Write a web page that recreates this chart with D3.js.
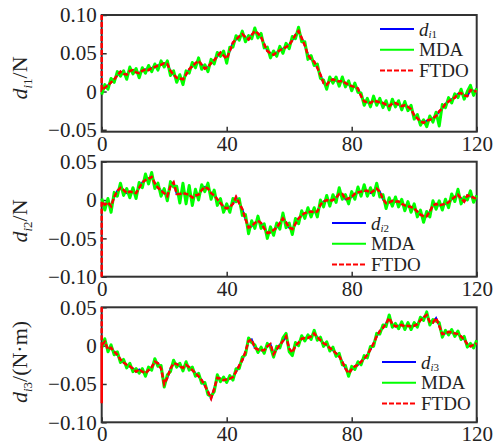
<!DOCTYPE html>
<html><head><meta charset="utf-8">
<script src="https://cdn.jsdelivr.net/npm/d3@7"></script>
<style>
html,body{margin:0;padding:0;background:#fff;}
svg{display:block;}
</style></head>
<body>
<svg id="chart" width="495" height="446"></svg>
<script>
// ---------- data ----------
const xTicks = [0, 40, 80, 120];
const yTicks1 = [-0.05, 0, 0.05, 0.10];
const yTicks2 = [-0.10, -0.05, 0, 0.05];
const yTicks3 = [-0.10, -0.05, 0, 0.05];
const seriesNames = ["MDA", "FTDO"];

// disturbance d_i1 (t = 0..120, step 1)
const d1 = [0.002,0.005,0.008,0.012,0.016,0.021,0.026,0.023,0.022,0.027,0.028,0.025,0.024,0.027,0.029,0.028,0.031,0.032,0.034,0.035,
0.037,0.036,0.027,0.022,0.018,0.017,0.016,0.022,0.029,0.033,0.037,0.040,0.035,0.030,0.032,0.037,0.041,0.046,0.051,0.047,
0.043,0.053,0.064,0.068,0.072,0.075,0.071,0.068,0.074,0.079,0.076,0.071,0.062,0.053,0.050,0.048,0.051,0.054,0.056,0.058,
0.061,0.067,0.074,0.079,0.070,0.060,0.048,0.042,0.039,0.031,0.022,0.011,0.009,0.014,0.016,0.014,0.013,0.014,0.011,0.009,
0.007,0.006,0.004,-0.006,-0.013,-0.014,-0.015,-0.012,-0.013,-0.014,-0.015,-0.017,-0.019,-0.016,-0.015,-0.017,-0.019,-0.018,-0.020,-0.023,
-0.031,-0.035,-0.039,-0.041,-0.038,-0.037,-0.035,-0.032,-0.026,-0.022,-0.016,-0.013,-0.010,-0.008,-0.003,-0.002,-0.005,-0.006,0.002,0.001,0.000];
const mda1 = [-0.004,0.009,0.003,0.017,0.012,0.026,0.020,0.027,0.016,0.032,0.023,0.030,0.018,0.031,0.024,0.034,0.026,0.036,0.028,0.040,
0.032,0.040,0.021,0.027,0.012,0.022,0.009,0.027,0.024,0.038,0.031,0.044,0.029,0.035,0.026,0.042,0.036,0.051,0.046,0.053,
0.037,0.058,0.058,0.073,0.067,0.079,0.065,0.073,0.069,0.083,0.070,0.076,0.057,0.058,0.044,0.053,0.046,0.059,0.050,0.063,
0.056,0.072,0.069,0.084,0.065,0.065,0.042,0.047,0.034,0.036,0.017,0.015,0.003,0.019,0.011,0.019,0.007,0.019,0.006,0.014,
0.001,0.011,-0.001,-0.002,-0.018,-0.009,-0.020,-0.006,-0.018,-0.009,-0.021,-0.012,-0.024,-0.010,-0.020,-0.012,-0.024,-0.013,-0.025,-0.018,
-0.036,-0.030,-0.044,-0.037,-0.046,-0.032,-0.040,-0.027,-0.045,-0.017,-0.021,-0.008,-0.015,-0.003,-0.008,0.003,-0.010,0.000,0.008,-0.005,0.004];
const ftdoInit1 = [0.10];

// disturbance d_i2
const d2 = [-0.002,-0.006,-0.003,-0.008,0.004,0.012,0.016,0.013,0.009,0.011,0.010,0.009,0.016,0.023,0.026,0.028,0.030,0.022,0.016,0.012,
0.009,0.005,0.018,0.023,0.008,0.008,0.009,0.008,0.007,0.003,0.006,0.007,0.013,0.017,0.015,0.009,0.006,0.001,-0.004,-0.009,
-0.011,-0.009,-0.005,0.004,-0.004,-0.012,-0.025,-0.036,-0.034,-0.030,-0.027,-0.030,-0.037,-0.043,-0.042,-0.039,-0.036,-0.030,-0.024,-0.029,
-0.036,-0.038,-0.031,-0.024,-0.020,-0.017,-0.016,-0.015,-0.016,-0.015,-0.006,-0.002,0.000,-0.001,0.000,0.003,0.008,0.008,0.001,0.002,
0.004,0.008,0.010,0.011,0.012,0.012,0.009,0.012,0.015,0.011,0.001,-0.004,-0.003,-0.001,-0.002,-0.002,-0.005,-0.007,-0.008,-0.009,
-0.011,-0.015,-0.019,-0.021,-0.021,-0.015,-0.007,-0.005,-0.007,-0.006,-0.005,-0.003,0.001,0.004,0.007,0.002,-0.002,0.006,0.005,0.003,0.002];
const mda2 = [0.002,-0.013,0.002,-0.016,0.010,0.005,0.022,0.006,0.015,0.003,0.016,0.002,0.023,0.016,0.034,0.021,0.036,0.015,0.022,0.005,
0.015,-0.001,0.024,0.017,0.018,-0.004,0.022,-0.005,0.019,-0.007,0.014,0.000,0.020,0.011,0.022,0.001,0.013,-0.007,0.002,-0.016,
-0.005,-0.016,0.002,-0.002,0.002,-0.020,-0.019,-0.044,-0.027,-0.037,-0.021,-0.037,-0.031,-0.050,-0.035,-0.046,-0.030,-0.038,-0.017,-0.036,
-0.030,-0.045,-0.024,-0.031,-0.014,-0.024,-0.010,-0.022,-0.010,-0.022,0.000,-0.009,0.006,-0.008,0.007,-0.003,0.016,0.001,0.007,-0.005,
0.011,0.001,0.017,0.005,0.020,0.005,0.016,0.006,0.022,0.004,0.007,-0.011,0.003,-0.008,0.004,-0.009,0.001,-0.014,-0.002,-0.016,
-0.005,-0.022,-0.013,-0.029,-0.015,-0.022,-0.001,-0.012,-0.001,-0.013,0.001,-0.010,0.008,-0.002,0.014,-0.005,0.004,0.000,0.012,-0.003,0.006];
const ftdoInit2 = [-0.10];

// disturbance d_i3
const d3v = [0.001,0.005,-0.005,-0.003,-0.008,-0.012,-0.018,-0.022,-0.025,-0.027,-0.030,-0.034,-0.031,-0.034,-0.036,-0.032,-0.028,-0.021,-0.023,-0.030,
-0.050,-0.042,-0.030,-0.023,-0.024,-0.027,-0.029,-0.025,-0.028,-0.032,-0.036,-0.040,-0.045,-0.052,-0.060,-0.069,-0.056,-0.042,-0.043,-0.045,
-0.044,-0.043,-0.041,-0.034,-0.026,-0.019,-0.008,0.006,0.008,-0.003,-0.005,-0.006,-0.006,-0.001,0.002,-0.011,-0.005,0.001,0.006,0.012,
-0.004,-0.009,0.000,0.004,0.009,0.010,0.010,0.012,0.016,0.011,0.007,0.003,0.001,-0.003,-0.006,-0.010,-0.014,-0.021,-0.030,-0.036,
-0.031,-0.027,-0.025,-0.021,-0.017,-0.012,-0.005,0.003,0.012,0.019,0.023,0.029,0.036,0.028,0.025,0.026,0.027,0.025,0.026,0.025,
0.026,0.028,0.033,0.037,0.040,0.031,0.030,0.036,0.026,0.015,0.016,0.018,0.017,0.016,0.015,0.012,0.008,0.002,-0.001,0.001,0.003];
const mda3 = [-0.003,0.009,-0.008,0.001,-0.012,-0.008,-0.022,-0.018,-0.029,-0.023,-0.034,-0.030,-0.036,-0.030,-0.040,-0.028,-0.032,-0.017,-0.027,-0.026,
-0.054,-0.038,-0.034,-0.019,-0.028,-0.023,-0.033,-0.021,-0.032,-0.028,-0.040,-0.036,-0.049,-0.048,-0.064,-0.066,-0.060,-0.038,-0.047,-0.041,
-0.048,-0.039,-0.045,-0.030,-0.030,-0.015,-0.012,0.010,0.004,0.001,-0.009,-0.002,-0.010,0.003,-0.002,-0.015,-0.001,-0.003,0.010,0.016,
-0.008,-0.013,0.004,0.000,0.013,0.006,0.014,0.008,0.020,0.007,0.011,-0.001,0.005,-0.007,-0.002,-0.014,-0.010,-0.025,-0.026,-0.040,
-0.027,-0.031,-0.021,-0.025,-0.013,-0.016,-0.001,-0.001,0.016,0.015,0.027,0.025,0.040,0.024,0.029,0.022,0.031,0.021,0.030,0.021,
0.030,0.024,0.037,0.033,0.044,0.027,0.034,0.032,0.030,0.011,0.020,0.014,0.021,0.012,0.019,0.008,0.012,-0.002,0.003,-0.003,0.007];
const ftdoInit3 = [0.05, -0.075];

// ---------- layout ----------
const svg = d3.select("#chart");
const SERIF = '"Liberation Serif","Times New Roman",serif';
const x = d3.scaleLinear().domain([0, 120]).range([101.7, 476.7]);

const panels = [
  { top: 15, bottom: 131.7, domain: [-0.0525, 0.10], ticks: yTicks1, d: d1, mda: mda1, init: ftdoInit1,
    sub: "i1", unit: "/N", labelY: 78, leg: { x: 380, y: 29 } },
  { top: 161.7, bottom: 276.7, domain: [-0.10, 0.05], ticks: yTicks2, d: d2, mda: mda2, init: ftdoInit2,
    sub: "i2", unit: "/N", labelY: 221, leg: { x: 332, y: 223 } },
  { top: 307.3, bottom: 422.3, domain: [-0.10, 0.05], ticks: yTicks3, d: d3v, mda: mda3, init: ftdoInit3,
    sub: "i3", unit: "/(N\u00B7m)", labelY: 362, leg: { x: 382, y: 362 } }
];

const fmt = v => v === 0 ? "0" : d3.format(".2f")(v);

panels.forEach(p => {
  const y = d3.scaleLinear().domain(p.domain).range([p.bottom, p.top]);
  const g = svg.append("g");

  // frame
  g.append("rect").attr("x", x(0)).attr("y", p.top)
    .attr("width", x(120) - x(0)).attr("height", p.bottom - p.top)
    .attr("fill", "none").attr("stroke", "#333").attr("stroke-width", 2);

  // x axis
  const xa = g.append("g").attr("transform", `translate(0,${p.bottom})`)
    .call(d3.axisBottom(x).tickValues(xTicks).tickSizeInner(-5).tickSizeOuter(0).tickPadding(4).tickFormat(d3.format("d")));
  xa.select(".domain").remove();
  xa.selectAll("line").attr("stroke", "#333").attr("stroke-width", 1.5);
  xa.selectAll("text").style("font-family", SERIF).style("font-size", "21px").attr("fill", "#222");

  // y axis
  const ya = g.append("g").attr("transform", `translate(${x(0)},0)`)
    .call(d3.axisLeft(y).tickValues(p.ticks).tickSizeInner(-5).tickSizeOuter(0).tickPadding(5).tickFormat(fmt));
  ya.select(".domain").remove();
  ya.selectAll("line").attr("stroke", "#333").attr("stroke-width", 1.5);
  ya.selectAll("text").style("font-family", SERIF).style("font-size", "21px").attr("fill", "#222");

  // lines
  const line = d3.line().x(d => x(d[0])).y(d => y(d[1]));
  const dPts = p.d.map((v, i) => [i, v]);
  const mPts = p.mda.map((v, i) => [i, v]);
  const fPts = p.init.map(v => [0, v]).concat(dPts);

  g.append("path").datum(dPts).attr("d", line).attr("fill", "none")
    .attr("stroke", "#0000ff").attr("stroke-width", 2);
  g.append("path").datum(mPts).attr("d", line).attr("fill", "none")
    .attr("stroke", "#00ff00").attr("stroke-width", 3).attr("stroke-linejoin", "round");
  g.append("path").datum(fPts).attr("d", line).attr("fill", "none")
    .attr("stroke", "#ff0000").attr("stroke-width", 2.5).attr("stroke-dasharray", "5,2");

  // y label
  const lab = g.append("text")
    .attr("transform", `translate(27,${p.labelY}) rotate(-90)`)
    .attr("text-anchor", "middle").style("font-family", SERIF).style("font-size", "22px").attr("fill", "#222");
  lab.append("tspan").style("font-style", "italic").text("d");
  lab.append("tspan").style("font-size", "13px").attr("dy", 5).style("font-style", "italic").text(p.sub[0]);
  lab.append("tspan").style("font-size", "13px").text(p.sub[1]);
  lab.append("tspan").attr("dy", -5).text(p.unit);

  // legend
  const L = p.leg;
  const items = [
    { color: "#0000ff", dash: null },
    { color: "#00ff00", dash: null },
    { color: "#ff0000", dash: "5,2" }
  ];
  items.forEach((it, k) => {
    const yy = L.y + k * 20.7;
    g.append("line").attr("x1", L.x).attr("x2", L.x + 34).attr("y1", yy).attr("y2", yy)
      .attr("stroke", it.color).attr("stroke-width", 2)
      .attr("stroke-dasharray", it.dash);
    const t = g.append("text").attr("x", L.x + 39).attr("y", yy + 6.5)
      .style("font-family", SERIF).style("font-size", "19px").attr("fill", "#222");
    if (k === 0) {
      t.append("tspan").style("font-style", "italic").text("d");
      t.append("tspan").style("font-size", "11px").attr("dy", 2).style("font-style", "italic").text(p.sub[0]);
      t.append("tspan").style("font-size", "11px").text(p.sub[1]);
    } else {
      t.text(seriesNames[k - 1]);
    }
  });
});
</script>
</body></html>
